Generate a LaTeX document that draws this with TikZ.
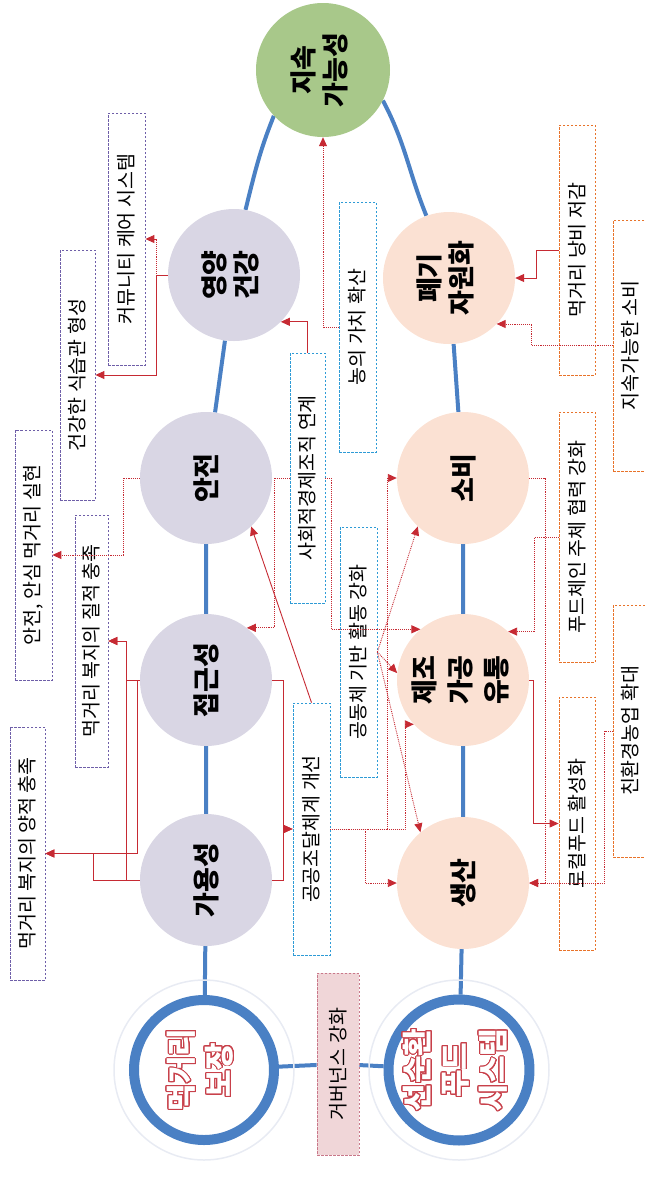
\documentclass[tikz,border=0pt]{standalone}
\usepackage{fontspec}
\setmainfont{Noto Sans CJK KR}
\usepackage{contour}
\contourlength{0.9pt}
\contournumber{24}
\usetikzlibrary{arrows.meta,backgrounds}
\definecolor{lav}{HTML}{D9D6E4}
\definecolor{peach}{HTML}{FBE1D3}
\definecolor{sgreen}{HTML}{A8C88A}
\definecolor{lblue}{HTML}{4A80C4}
\definecolor{ared}{HTML}{C62A33}
\definecolor{bpurple}{HTML}{6E5EA8}
\definecolor{bcyan}{HTML}{2E9BD6}
\definecolor{borange}{HTML}{E8732A}
\definecolor{gvfill}{HTML}{F0D6D8}
\definecolor{gvline}{HTML}{C9788A}
\definecolor{txtred}{HTML}{C8404A}
\definecolor{faintc}{HTML}{E8EBF3}
\begin{document}
\begin{tikzpicture}[x=1pt,y=1pt,
  circ/.style={circle, minimum size=132pt, inner sep=0pt, font=\fontsize{27pt}{32pt}\selectfont\bfseries},
  lavc/.style={circ, fill=lav},
  peachc/.style={circ, fill=peach},
  greenc/.style={circ, fill=sgreen, minimum size=134pt},
  bigring/.style={circle, draw=lblue, line width=10pt, fill=white, minimum size=140pt, inner sep=0pt, text=white, font=\fontsize{30pt}{38pt}\selectfont\bfseries},
  faintring/.style={circle, draw=faintc, line width=1.5pt, minimum size=180pt, inner sep=0pt},
  tbox/.style={draw, dash pattern=on 2.5pt off 1.5pt, line width=0.8pt, fill=white, inner sep=0pt, font=\fontsize{19.5pt}{23pt}\selectfont},
  pbox/.style={tbox, draw=bpurple},
  cbox/.style={tbox, draw=bcyan},
  obox/.style={tbox, draw=borange},
  bline/.style={draw=lblue, line width=4pt},
  arr/.style={draw=ared, line width=0.9pt, -{Triangle[length=9pt,width=8pt]}},
  arrd/.style={arr, densely dotted},
]
\useasboundingbox (0,0) rectangle (645,-1179);

% circles
\node[greenc] (js) at (323,-70) {\rotatebox{90}{\begin{tabular}{@{}c@{}}지속\\가능성\end{tabular}}};
\node[lavc] (yy) at (234,-275) {\rotatebox{90}{\begin{tabular}{@{}c@{}}영양\\건강\end{tabular}}};
\node[lavc] (aj) at (206,-478) {\rotatebox{90}{안전}};
\node[lavc] (jg) at (206,-680) {\rotatebox{90}{접근성}};
\node[lavc] (gy) at (206,-880) {\rotatebox{90}{가용성}};
\node[peachc] (pg) at (449,-278) {\rotatebox{90}{\begin{tabular}{@{}c@{}}폐기\\자원화\end{tabular}}};
\node[peachc] (sb) at (463,-478) {\rotatebox{90}{소비}};
\node[peachc] (jj) at (463,-680) {\rotatebox{90}{\fontsize{27pt}{36pt}\selectfont\begin{tabular}{@{}c@{}}제조\\가공\\유통\end{tabular}}};
\node[peachc] (sn) at (463,-883) {\rotatebox{90}{생산}};

% outer rings
\node[faintring] (bso) at (204,-1070) {};
\node[faintring] (sso) at (459,-1070) {};
\node[bigring] (bs) at (204,-1070) {\rotatebox{90}{\begin{tabular}{@{}c@{}}\contour{txtred}{먹거리}\\\contour{txtred}{보장}\end{tabular}}};
\node[bigring] (ss) at (459,-1070) {\rotatebox{90}{\begin{tabular}{@{}c@{}}\contour{txtred}{선순환}\\\contour{txtred}{푸드}\\\contour{txtred}{시스템}\end{tabular}}};

% boxes
\node[pbox, minimum width=37pt, minimum height=252pt] (bcc) at (126.5,-239) {\rotatebox{90}{커뮤니티 케어 시스템}};
\node[pbox, minimum width=35pt, minimum height=250pt] (bhs) at (77.5,-375) {\rotatebox{90}{건강한 식습관 형성}};
\node[pbox, minimum width=37pt, minimum height=250pt] (baa) at (33.5,-555) {\rotatebox{90}{안전, 안심 먹거리 실현}};
\node[pbox, minimum width=33pt, minimum height=252pt] (bql) at (91.5,-641) {\rotatebox{90}{먹거리 복지의 질적 충족}};
\node[pbox, minimum width=35pt, minimum height=253pt] (bqn) at (27.5,-853.5) {\rotatebox{90}{먹거리 복지의 양적 충족}};
\node[cbox, minimum width=35pt, minimum height=250pt] (bse) at (307.5,-478) {\rotatebox{90}{사회적경제조직 연계}};
\node[cbox, minimum width=37pt, minimum height=250pt] (bng) at (357.5,-327) {\rotatebox{90}{농의 가치 확산}};
\node[cbox, minimum width=37pt, minimum height=250pt] (bgd) at (358.5,-652) {\rotatebox{90}{공동체 기반 활동 강화}};
\node[cbox, minimum width=37pt, minimum height=252pt] (bgj) at (311.5,-829) {\rotatebox{90}{공공조달체계 개선}};
\node[obox, minimum width=36pt, minimum height=250pt] (bnb) at (577,-250) {\rotatebox{90}{먹거리 낭비 저감}};
\node[obox, minimum width=34pt, minimum height=251pt] (bsc) at (630,-345.5) {\rotatebox{90}{지속가능한 소비}};
\node[obox, minimum width=36pt, minimum height=250pt] (bfc) at (577,-537) {\rotatebox{90}{푸드체인 주체 협력 강화}};
\node[obox, minimum width=34pt, minimum height=252pt] (bce) at (630,-731) {\rotatebox{90}{친환경농업 확대}};
\node[obox, minimum width=36pt, minimum height=253pt] (blf) at (577,-823.5) {\rotatebox{90}{로컬푸드 활성화}};
\node[tbox, draw=gvline, fill=gvfill, minimum width=42pt, minimum height=182pt] (gv) at (338,-1064) {\rotatebox{90}{거버넌스 강화}};

% blue backbone
\begin{scope}[on background layer]
\draw[bline] (bs) -- (gy) -- (jg) -- (aj) -- (yy);
\draw[bline] (yy.80) to[out=76,in=-112] (js.223);
\draw[bline] (js.-27) to[out=-62,in=112] (pg.110);
\draw[bline] (pg) -- (sb) -- (jj) -- (sn) -- (ss);
\draw[bline] (bs) -- (gv) -- (ss);
\end{scope}

% red connectors, left
\draw[arrd] (yy.west) -| (156,-239) -- (bcc.east);
\draw[arr] (yy.west) -| (156,-375) -- (bhs.east);
\draw[arrd] (aj.west) -| (123,-555) -- (baa.east);
\draw[arr] (jg.west) -| (126,-641) -- (bql.east);
\draw[arr] (jg.west) -| (137,-853.5) -- (bqn.east);
\draw[arr] (gy.west) -| (126,-641) -- (bql.east);
\draw[arr] (gy.west) -| (93,-853.5) -- (bqn.east);

% red connectors, middle
\draw[arr] (bse.north) |- (yy.-45);
\draw[arrd] (bng.west) -| (js.south);
\draw[arrd] (bse.west) -- ++(-15,0) |- (jg.52);
\draw[arrd] (bse.east) -- ++(6,0) |- (jj.130);
\draw[arr] (bgj.north) -- (aj.-47);
\draw[arrd] (bgd.east) -- (sb.-133);
\draw[arrd] (bgd.east) -- (jj.174);
\draw[arrd] (bgd.east) -- (sn.130);
\draw[arr] (jg.east) -- ++(11,0) |- (bgj.west);
\draw[arr] (gy.east) -- ++(11,0) |- (bgj.west);
\draw[arrd] (bgj.east) -- (387,-829) |- (sb.west);
\draw[arrd] (bgj.east) -- (405,-829) |- (jj.222);
\draw[arrd] (bgj.east) -- (365,-829) |- (sn.west);

% red connectors, right
\draw[arr] (bnb.west) -- ++(-22,0) |- (pg.east);
\draw[arrd] (bsc.west) -- ++(-81,0) |- (pg.-44);
\draw[arrd] (sb.east) -- ++(16,0) |- (sn.east);
\draw[arr] (jj.east) -- ++(4,0) |- (blf.west);
\draw[arrd] (bfc.west) -- ++(-24,0) |- (jj.47);
\draw[arrd] (bce.west) -- ++(-8,0) |- (sn.east);
\end{tikzpicture}
\end{document}
